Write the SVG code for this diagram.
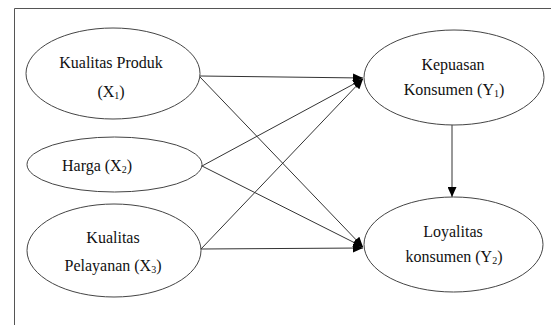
<svg xmlns="http://www.w3.org/2000/svg" width="551" height="325" viewBox="0 0 551 325">
<style>
.node ellipse{fill:#fff;stroke:#444;stroke-width:1}
.node text{font-family:"Liberation Serif","Times New Roman",serif;font-size:16px;fill:#111;text-anchor:middle}
.sub{font-size:10px}
#connectors line{stroke:#333;stroke-width:1;marker-end:url(#ah)}
</style>
<defs>
<marker id="ah" markerWidth="10" markerHeight="9" refX="10" refY="4.5" orient="auto" markerUnits="userSpaceOnUse">
<path d="M0,0 L10,4.5 L0,9 Z" fill="#000"/>
</marker>
</defs>
<rect width="551" height="325" fill="#fff"/>
<path d="M14.5,325 V8.5 H551" fill="none" stroke="#555" stroke-width="1"/>
<g id="connectors">
<line x1="200" y1="76" x2="363" y2="78"/>
<line x1="200" y1="77" x2="363" y2="247"/>
<line x1="202" y1="166" x2="363" y2="79"/>
<line x1="202" y1="166" x2="363" y2="247"/>
<line x1="201" y1="249" x2="363" y2="79"/>
<line x1="201" y1="249" x2="363" y2="248"/>
<line x1="452" y1="125" x2="452" y2="197"/>
</g>
<g id="x1" class="node">
<ellipse cx="113" cy="73.5" rx="87" ry="45.5"/>
<text x="111" y="68">Kualitas Produk</text>
<text x="111" y="97">(X<tspan class="sub" dy="2">1</tspan><tspan dy="-2">)</tspan></text>
</g>
<g id="x2" class="node">
<ellipse cx="114.5" cy="164.5" rx="87.5" ry="27.5"/>
<text x="97" y="171">Harga (X<tspan class="sub" dy="2">2</tspan><tspan dy="-2">)</tspan></text>
</g>
<g id="x3" class="node">
<ellipse cx="114" cy="250.5" rx="87" ry="46.5"/>
<text x="113" y="243">Kualitas</text>
<text x="113" y="271">Pelayanan  (X<tspan class="sub" dy="2">3</tspan><tspan dy="-2">)</tspan></text>
</g>
<g id="y1" class="node">
<ellipse cx="454" cy="77.5" rx="90" ry="47.5"/>
<text x="453" y="70">Kepuasan</text>
<text x="454" y="95">Konsumen (Y<tspan class="sub" dy="2">1</tspan><tspan dy="-2">)</tspan></text>
</g>
<g id="y2" class="node">
<ellipse cx="453.5" cy="244.5" rx="89.5" ry="47.5"/>
<text x="453" y="237">Loyalitas</text>
<text x="454" y="262">konsumen (Y<tspan class="sub" dy="2">2</tspan><tspan dy="-2">)</tspan></text>
</g>
</svg>
